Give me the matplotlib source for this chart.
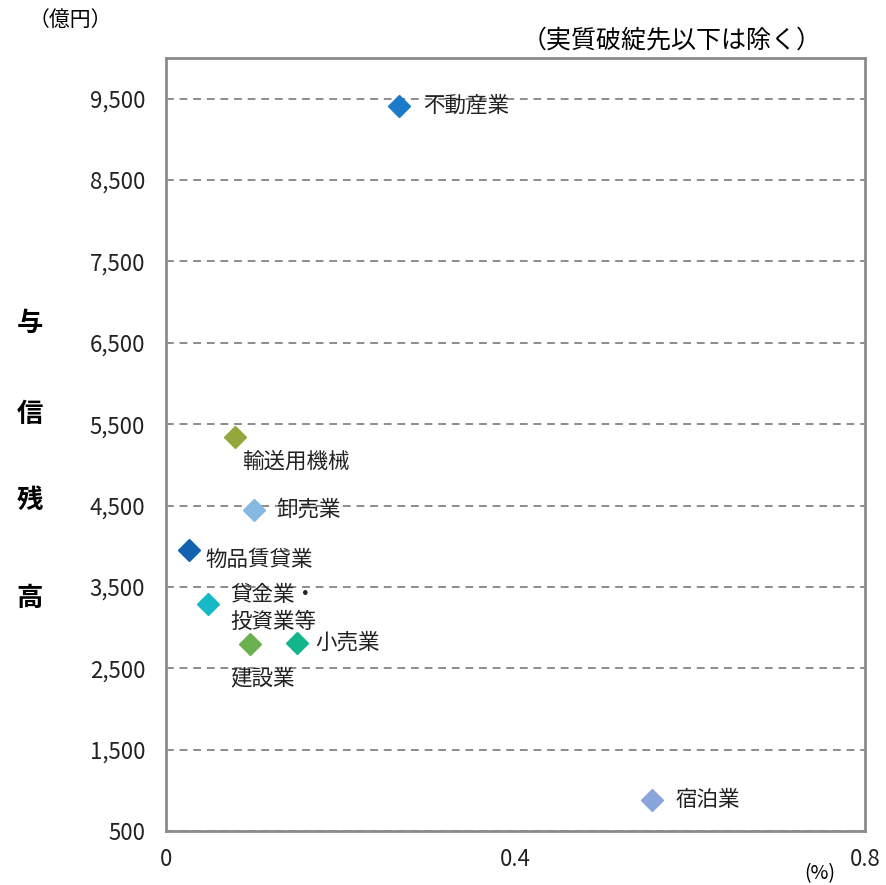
import matplotlib
matplotlib.use("Agg")
import matplotlib.pyplot as plt
from matplotlib.ticker import FuncFormatter

plt.rcParams['font.family'] = ['Noto Sans CJK JP', 'DejaVu Sans']

# データ
業種 = ["不動産業", "輸送用機械", "卸売業", "物品賃貸業", "貸金業・\n投資業等", "建設業", "小売業", "宿泊業"]
比率 = [0.267, 0.079, 0.101, 0.026, 0.048, 0.096, 0.150, 0.556]
残高 = [9410, 5340, 4450, 3955, 3290, 2800, 2810, 880]
色 = ["#1b7bc9", "#93a83c", "#86b9e1", "#1262b0", "#19b8c6", "#6bb04f", "#15b58b", "#8aa5d9"]
y目盛 = [500, 1500, 2500, 3500, 4500, 5500, 6500, 7500, 8500, 9500]
x目盛 = [0, 0.4, 0.8]

# ラベルの位置（点からのずれ, pt）
ずれ = [(17, 0), (5, -18), (16, 0), (12, -7), (16, -3), (-14, -25), (13, 0), (17, 0)]

fig = plt.figure(figsize=(8.86, 8.85), dpi=100)
ax = fig.add_axes([0.1874, 0.0610, 0.7889, 0.8735])

for x, y, c in zip(比率, 残高, 色):
    ax.plot(x, y, marker='D', markersize=11, color=c, linestyle='none', zorder=3)

for name, x, y, (dx, dy) in zip(業種, 比率, 残高, ずれ):
    ax.annotate(name, (x, y), xytext=(dx, dy), textcoords='offset points',
                ha='left', va='center', fontsize=15.5, color='#222222',
                linespacing=1.3)

ax.set_xlim(0, 0.8)
ax.set_ylim(500, 10000)
ax.set_xticks(x目盛)
ax.set_yticks(y目盛)
ax.xaxis.set_major_formatter(FuncFormatter(lambda v, p: "0" if v == 0 else f"{v:.1f}"))
ax.yaxis.set_major_formatter(FuncFormatter(lambda v, p: f"{int(v):,}"))
ax.tick_params(length=0, labelsize=16, colors='#222222')
ax.tick_params(axis='y', pad=15)
ax.tick_params(axis='x', pad=12)

ax.grid(axis='y', linestyle=(0, (4, 3)), color='#8c8c8c', linewidth=1.4)
for s in ax.spines.values():
    s.set_color('#8c8c8c')
    s.set_linewidth(2)

# 軸ラベル等
for ch, yy in zip("与信残高", [323, 415, 500, 598]):
    fig.text(30 / 886, 1 - yy / 885, ch, fontsize=19, fontweight='bold',
             ha='center', va='center')
fig.text(70 / 886, 1 - 20 / 885, "（億円）", fontsize=15, ha='center', va='center')
fig.text(672 / 886, 1 - 40 / 885, "（実質破綻先以下は除く）", fontsize=18, ha='center', va='center')
fig.text(820 / 886, 1 - 874 / 885, "(%)", fontsize=14, ha='center', va='center')

fig.savefig("out.png", dpi=100)
